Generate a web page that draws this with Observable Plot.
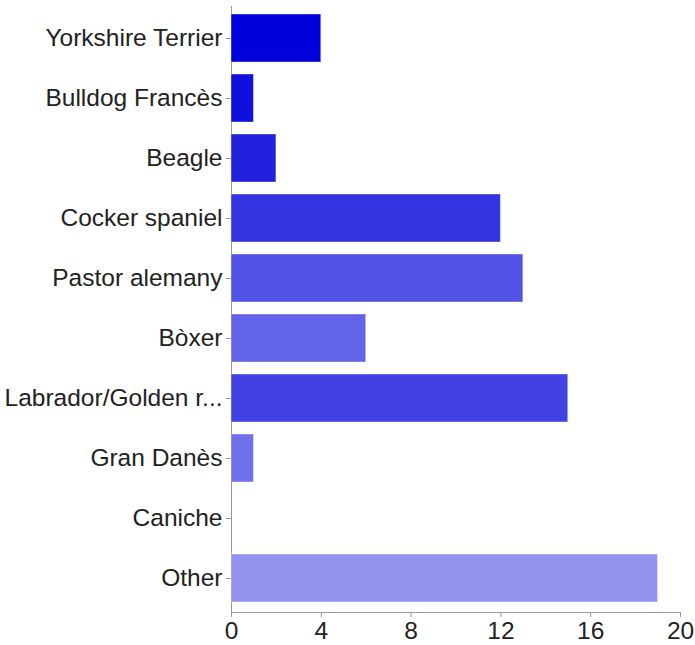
<!DOCTYPE html>
<html>
<head>
<meta charset="utf-8">
<script src="https://cdn.jsdelivr.net/npm/d3@7"></script>
<script src="https://cdn.jsdelivr.net/npm/@observablehq/plot@0.6"></script>
<style>
  html, body { margin: 0; padding: 0; background: #fff; }
  #chart svg text { fill: #222; }
</style>
</head>
<body>
<div id="chart"></div>
<script>
const breeds = ["Yorkshire Terrier", "Bulldog Francès", "Beagle", "Cocker spaniel", "Pastor alemany", "Bòxer", "Labrador/Golden r...", "Gran Danès", "Caniche", "Other"];
const counts = [4, 1, 2, 12, 13, 6, 15, 1, 0, 19];
const colors = ["#0000dd", "#1010dc", "#2020dd", "#3333e0", "#5252e5", "#6363e8", "#4040e3", "#7070ea", "#8080ec", "#9494f0"];
const xTicks = [0, 4, 8, 12, 16, 20];

const data = breeds.map((b, i) => ({breed: b, count: counts[i], color: colors[i]}));

const chart = Plot.plot({
  width: 695,
  height: 645,
  marginTop: 6,
  marginBottom: 33,
  marginLeft: 231,
  marginRight: 15,
  style: {fontFamily: "'Liberation Sans', Arial, sans-serif", fontSize: "24.5px", color: "#999", background: "#fff"},
  x: {domain: [0, 20], ticks: xTicks, label: null, line: true, tickSize: 5, tickPadding: 4},
  y: {domain: breeds, range: [8, 608], paddingInner: 0.2, paddingOuter: 0.1, label: null, line: true, tickSize: 5, tickPadding: 4},
  color: {type: "identity"},
  marks: [
    Plot.barX(data, {x: "count", y: "breed", fill: "color", stroke: "#ffffff", strokeOpacity: 0.4, strokeWidth: 1})
  ]
});
document.getElementById("chart").appendChild(chart);
</script>
</body>
</html>
